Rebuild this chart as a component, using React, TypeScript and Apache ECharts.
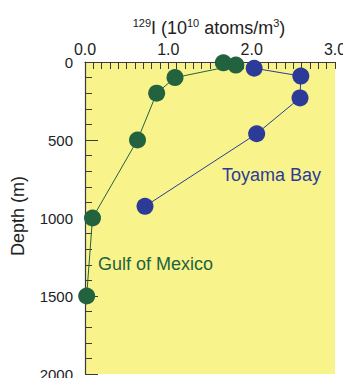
import React, { useEffect, useRef } from "react";
import * as echarts from "echarts";

const gulfOfMexico: [number, number][] = [
  [1.66, 5],
  [1.81, 20],
  [1.08, 100],
  [0.86, 200],
  [0.63, 500],
  [0.09, 1000],
  [0.02, 1500],
];

const toyamaBay: [number, number][] = [
  [2.03, 40],
  [2.59, 90],
  [2.58, 230],
  [2.06, 460],
  [0.72, 925],
];

const xTicks = [0, 1, 2, 3];
const yTicks = [0, 500, 1000, 1500, 2000];

const GREEN = "#23623f";
const BLUE = "#2c3b98";
const YELLOW = "#f9f38b";
const AXIS = "#3a3a3a";
const FONT = "Liberation Sans, Arial, sans-serif";

export default function App() {
  const ref = useRef<HTMLDivElement>(null);
  useEffect(() => {
    if (!ref.current) return;
    const chart = echarts.init(ref.current, null, { renderer: "svg" });
    chart.setOption({
      animation: false,
      backgroundColor: "#ffffff",
      textStyle: { fontFamily: FONT },
      grid: {
        left: 85,
        right: 8,
        top: 62,
        bottom: 4,
        outerBoundsMode: "none",
        containLabel: false,
        show: true,
        backgroundColor: YELLOW,
        borderWidth: 0,
      },
      xAxis: {
        type: "value",
        position: "top",
        min: xTicks[0],
        max: xTicks[xTicks.length - 1],
        interval: 1,
        axisLine: { show: true, lineStyle: { color: AXIS, width: 1.2 } },
        axisTick: { show: true, inside: true, length: 7, lineStyle: { color: AXIS } },
        minorTick: { show: true, splitNumber: 10, length: 7, lineStyle: { color: AXIS } },
        splitLine: { show: false },
        axisLabel: {
          margin: 5,
          fontSize: 16,
          color: "#222",
          fontFamily: FONT,
          formatter: (v: number) => v.toFixed(1),
        },
      },
      yAxis: {
        type: "value",
        inverse: true,
        min: yTicks[0],
        max: yTicks[yTicks.length - 1],
        interval: 500,
        axisLine: { show: true, lineStyle: { color: AXIS, width: 1.2 } },
        axisTick: { show: true, inside: true, length: 13, lineStyle: { color: AXIS } },
        minorTick: { show: true, splitNumber: 5, length: 7, lineStyle: { color: AXIS } },
        splitLine: { show: false },
        axisLabel: {
          margin: 12,
          fontSize: 15,
          color: "#222",
          fontFamily: FONT,
          formatter: (v: number) => String(v),
        },
      },
      graphic: [
        {
          type: "text",
          x: 209,
          y: 27,
          style: {
            text: "{sup|129}{n|I (10}{sup|10}{n| atoms/m}{sup|3}{n|)}",
            align: "center",
            verticalAlign: "middle",
            fill: "#222",
            rich: {
              n: { fontSize: 18, lineHeight: 20, fontFamily: FONT, fill: "#222", verticalAlign: "bottom" },
              sup: { fontSize: 11, lineHeight: 11, fontFamily: FONT, fill: "#222", verticalAlign: "top" },
            },
          },
        },
        {
          type: "text",
          x: 18,
          y: 216,
          rotation: Math.PI / 2,
          style: {
            text: "Depth (m)",
            fontSize: 18,
            fontFamily: FONT,
            fill: "#222",
            align: "center",
            verticalAlign: "middle",
          },
        },
        {
          type: "text",
          x: 222,
          y: 175,
          style: {
            text: "Toyama Bay",
            fontSize: 18,
            fontFamily: FONT,
            fill: BLUE,
            align: "left",
            verticalAlign: "middle",
          },
        },
        {
          type: "text",
          x: 98,
          y: 264,
          style: {
            text: "Gulf of Mexico",
            fontSize: 18,
            fontFamily: FONT,
            fill: GREEN,
            align: "left",
            verticalAlign: "middle",
          },
        },
      ],
      series: [
        {
          name: "Gulf of Mexico",
          type: "line",
          data: gulfOfMexico,
          symbol: "circle",
          symbolSize: 17,
          clip: false,
          lineStyle: { color: GREEN, width: 1 },
          itemStyle: { color: GREEN },
        },
        {
          name: "Toyama Bay",
          type: "line",
          data: toyamaBay,
          symbol: "circle",
          symbolSize: 17,
          clip: false,
          lineStyle: { color: BLUE, width: 1 },
          itemStyle: { color: BLUE },
        },
      ],
    });
    return () => chart.dispose();
  }, []);
  return <div ref={ref} style={{ width: 343, height: 378, position: "absolute", left: 0, top: 0 }} />;
}
